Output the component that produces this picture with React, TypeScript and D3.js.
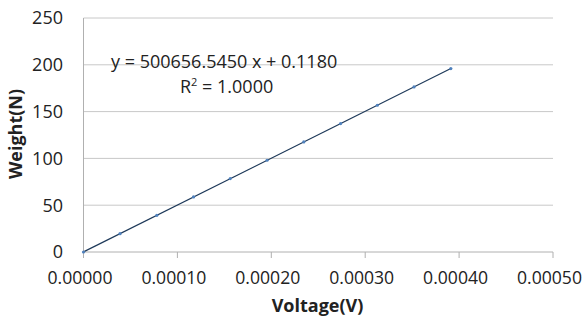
import React from "react";
import * as d3 from "d3";

const voltages = [0, 0.0000389, 0.0000781, 0.0001172, 0.0001563, 0.0001955, 0.0002346, 0.0002738, 0.0003129, 0.000352, 0.0003912];
const weights = [0, 19.6, 39.2, 58.8, 78.4, 98, 117.6, 137.2, 156.8, 176.4, 196];
const xTicks = [0, 0.0001, 0.0002, 0.0003, 0.0004, 0.0005];
const yTicks = [0, 50, 100, 150, 200, 250];
const slope = 500656.545;
const intercept = 0.118;
const equationText = "y = 500656.5450 x + 0.1180";

const W = 584;
const H = 320;
const left = 83.5;
const right = 553;
const top = 18;
const bottom = 252;
const font = "'Open Sans', sans-serif";

export default function App() {
  const x = d3.scaleLinear().domain([0, 0.0005]).range([left, right]);
  const y = d3.scaleLinear().domain([0, 250]).range([bottom, top]);
  const xMax = d3.max(voltages) as number;
  const trend = d3.line<number>().x((v) => x(v)).y((v) => y(slope * v + intercept));
  return (
    <svg width={W} height={H} style={{ position: "absolute", left: 0, top: 0, background: "#fff" }} fontFamily={font}>
      {yTicks.map((t) => (
        <g key={"y" + t}>
          {t > 0 && <line x1={left} x2={right} y1={y(t)} y2={y(t)} stroke="#c8c8c8" strokeWidth={1} />}
          <text x={63} y={y(t)} dy="0.35em" textAnchor="end" fontSize={18} fill="#222">{t}</text>
        </g>
      ))}
      <line x1={left} x2={left} y1={top} y2={bottom} stroke="#b0b0b0" />
      <line x1={left} x2={right} y1={bottom} y2={bottom} stroke="#b0b0b0" />
      {xTicks.map((t) => (
        <g key={"x" + t}>
          <line x1={x(t)} x2={x(t)} y1={bottom} y2={bottom + 6} stroke="#b0b0b0" />
          <text x={x(t) - 3.5} y={278} dy="0.35em" textAnchor="middle" fontSize={17.6} fill="#222">{t.toFixed(5)}</text>
        </g>
      ))}
      <path d={trend([0, xMax]) || ""} fill="none" stroke="#1f3a5a" strokeWidth={1.2} />
      {voltages.map((v, i) => (
        <circle key={i} cx={x(v)} cy={y(weights[i])} r={1.6} fill="#4f81bd" />
      ))}
      <text x={111} y={61.5} dy="0.35em" fontSize={18} fill="#222">{equationText}</text>
      <text x={180} y={86.5} dy="0.35em" fontSize={18} fill="#222">
        R<tspan fontSize={11} dy="-7">2</tspan><tspan dy="7"> = 1.0000</tspan>
      </text>
      <text x={317.5} y={306} dy="0.35em" textAnchor="middle" fontSize={18} fontWeight="bold" fill="#222">Voltage(V)</text>
      <text transform={`translate(16,134) rotate(-90)`} dy="0.35em" textAnchor="middle" fontSize={18} fontWeight="bold" fill="#222">Weight(N)</text>
    </svg>
  );
}
